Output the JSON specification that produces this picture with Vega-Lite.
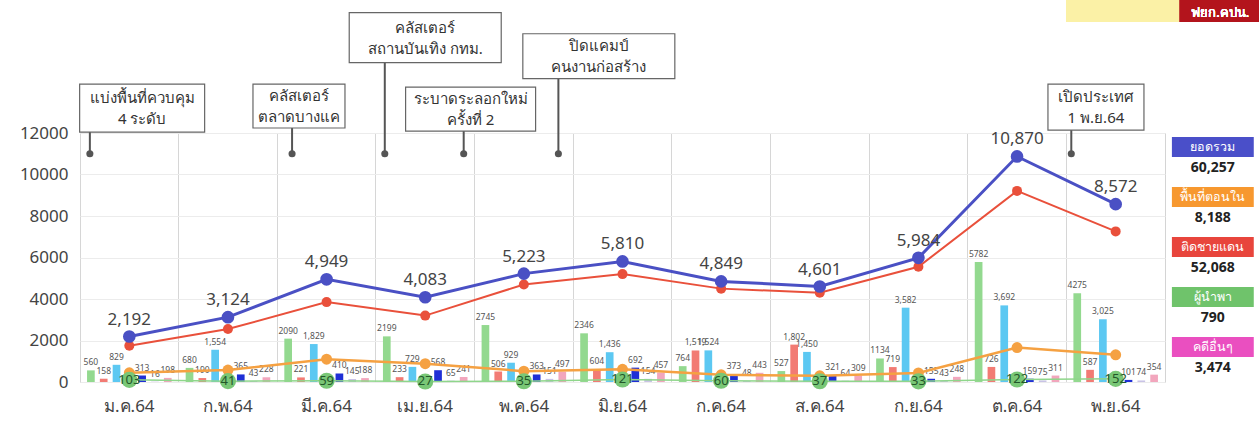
{
  "$schema": "https://vega.github.io/schema/vega-lite/v6.json",
  "width": 1085,
  "height": 249,
  "autosize": {"type": "none"},
  "padding": {"left": 80, "top": 133, "right": 94, "bottom": 40},
  "config": {
    "view": {"stroke": "#d4d4d4"},
    "font": "Noto Sans",
    "axis": {"labelFont": "Noto Sans", "title": null}
  },
  "datasets": {
    "bars": [
      {"m":"ม.ค.64","cat":"g","v":560},{"m":"ม.ค.64","cat":"r","v":158},{"m":"ม.ค.64","cat":"c","v":829},{"m":"ม.ค.64","cat":"b","v":313},{"m":"ม.ค.64","cat":"o","v":16},{"m":"ม.ค.64","cat":"p","v":198},
      {"m":"ก.พ.64","cat":"g","v":680},{"m":"ก.พ.64","cat":"r","v":190},{"m":"ก.พ.64","cat":"c","v":1554},{"m":"ก.พ.64","cat":"b","v":365},{"m":"ก.พ.64","cat":"o","v":43},{"m":"ก.พ.64","cat":"p","v":228},
      {"m":"มี.ค.64","cat":"g","v":2090},{"m":"มี.ค.64","cat":"r","v":221},{"m":"มี.ค.64","cat":"c","v":1829},{"m":"มี.ค.64","cat":"b","v":410},{"m":"มี.ค.64","cat":"o","v":145},{"m":"มี.ค.64","cat":"p","v":188},
      {"m":"เม.ย.64","cat":"g","v":2199},{"m":"เม.ย.64","cat":"r","v":233},{"m":"เม.ย.64","cat":"c","v":729},{"m":"เม.ย.64","cat":"b","v":568},{"m":"เม.ย.64","cat":"o","v":65},{"m":"เม.ย.64","cat":"p","v":241},
      {"m":"พ.ค.64","cat":"g","v":2745},{"m":"พ.ค.64","cat":"r","v":506},{"m":"พ.ค.64","cat":"c","v":929},{"m":"พ.ค.64","cat":"b","v":363},{"m":"พ.ค.64","cat":"o","v":151},{"m":"พ.ค.64","cat":"p","v":497},
      {"m":"มิ.ย.64","cat":"g","v":2346},{"m":"มิ.ย.64","cat":"r","v":604},{"m":"มิ.ย.64","cat":"c","v":1436},{"m":"มิ.ย.64","cat":"b","v":692},{"m":"มิ.ย.64","cat":"o","v":154},{"m":"มิ.ย.64","cat":"p","v":457},
      {"m":"ก.ค.64","cat":"g","v":764},{"m":"ก.ค.64","cat":"r","v":1519},{"m":"ก.ค.64","cat":"c","v":1524},{"m":"ก.ค.64","cat":"b","v":373},{"m":"ก.ค.64","cat":"o","v":48},{"m":"ก.ค.64","cat":"p","v":443},
      {"m":"ส.ค.64","cat":"g","v":527},{"m":"ส.ค.64","cat":"r","v":1802},{"m":"ส.ค.64","cat":"c","v":1450},{"m":"ส.ค.64","cat":"b","v":321},{"m":"ส.ค.64","cat":"o","v":64},{"m":"ส.ค.64","cat":"p","v":309},
      {"m":"ก.ย.64","cat":"g","v":1134},{"m":"ก.ย.64","cat":"r","v":719},{"m":"ก.ย.64","cat":"c","v":3582},{"m":"ก.ย.64","cat":"b","v":155},{"m":"ก.ย.64","cat":"o","v":43},{"m":"ก.ย.64","cat":"p","v":248},
      {"m":"ต.ค.64","cat":"g","v":5782},{"m":"ต.ค.64","cat":"r","v":726},{"m":"ต.ค.64","cat":"c","v":3692},{"m":"ต.ค.64","cat":"b","v":159},{"m":"ต.ค.64","cat":"o","v":75},{"m":"ต.ค.64","cat":"p","v":311},
      {"m":"พ.ย.64","cat":"g","v":4275},{"m":"พ.ย.64","cat":"r","v":587},{"m":"พ.ย.64","cat":"c","v":3025},{"m":"พ.ย.64","cat":"b","v":101},{"m":"พ.ย.64","cat":"o","v":74},{"m":"พ.ย.64","cat":"p","v":354}
    ],
    "summary": [
      {"m":"ม.ค.64","total":2192,"border":1750,"inside":442,"lead":103},
      {"m":"ก.พ.64","total":3124,"border":2550,"inside":574,"lead":41},
      {"m":"มี.ค.64","total":4949,"border":3850,"inside":1099,"lead":59},
      {"m":"เม.ย.64","total":4083,"border":3200,"inside":883,"lead":27},
      {"m":"พ.ค.64","total":5223,"border":4700,"inside":523,"lead":35},
      {"m":"มิ.ย.64","total":5810,"border":5200,"inside":610,"lead":121},
      {"m":"ก.ค.64","total":4849,"border":4500,"inside":349,"lead":60},
      {"m":"ส.ค.64","total":4601,"border":4300,"inside":301,"lead":37},
      {"m":"ก.ย.64","total":5984,"border":5550,"inside":434,"lead":33},
      {"m":"ต.ค.64","total":10870,"border":9210,"inside":1660,"lead":122},
      {"m":"พ.ย.64","total":8572,"border":7259,"inside":1313,"lead":152}
    ],
    "notes": [
      {"id":1,"t":["แบ่งพื้นที่ควบคุม","4 ระดับ"],"at":0.10,"lx":0.63,"ly":13200},
      {"id":2,"t":["คลัสเตอร์","ตลาดบางแค"],"at":2.15,"lx":2.22,"ly":13300},
      {"id":3,"t":["คลัสเตอร์","สถานบันเทิง กทม."],"at":3.09,"lx":3.50,"ly":16600},
      {"id":4,"t":["ระบาดระลอกใหม่","ครั้งที่ 2"],"at":3.89,"lx":3.96,"ly":13150},
      {"id":5,"t":["ปิดแคมป์","คนงานก่อสร้าง"],"at":4.85,"lx":5.26,"ly":15700},
      {"id":6,"t":["เปิดประเทศ","1 พ.ย.64"],"at":10.05,"lx":10.30,"ly":13250}
    ],
    "legend": [
      {"k":"ยอดรวม","total":60257},
      {"k":"พื้นที่ตอนใน","total":8188},
      {"k":"ติดชายแดน","total":52068},
      {"k":"ผู้นำพา","total":790},
      {"k":"คดีอื่นๆ","total":3474}
    ]
  },
  "resolve": {"scale": {"x": "independent", "y": "independent"}},
  "layer": [
    {
      "layer": [
        {
          "data": {"name": "bars"},
          "mark": {"type": "bar"},
          "encoding": {
            "x": {"field": "m", "type": "nominal",
              "scale": {"domain": ["ม.ค.64","ก.พ.64","มี.ค.64","เม.ย.64","พ.ค.64","มิ.ย.64","ก.ค.64","ส.ค.64","ก.ย.64","ต.ค.64","พ.ย.64"], "paddingInner": 0, "paddingOuter": 0},
              "axis": {"grid": true, "bandPosition": 0, "gridColor": "#d6d6d6", "ticks": false, "domain": false, "labelAngle": 0, "labelFontSize": 17, "labelColor": "#444", "labelPadding": 16}},
            "xOffset": {"field": "cat", "type": "nominal", "scale": {"domain": ["g","r","c","mid","b","o","p"], "paddingInner": 0.4, "paddingOuter": 0.55}},
            "y": {"field": "v", "type": "quantitative", "scale": {"domain": [0, 12000]},
              "axis": {"values": [0,1000,2000,3000,4000,5000,6000,7000,8000,9000,10000,11000,12000], "format": "d", "labelExpr": "datum.value % 2000 === 0 ? datum.label : ''", "grid": true, "gridColor": "#ececec", "ticks": false, "domain": false, "labelFontSize": 17, "labelColor": "#444", "labelPadding": 12}},
            "color": {"field": "cat", "type": "nominal", "scale": {"domain": ["g","r","c","b","o","p"], "range": ["#93d98f","#f27b74","#5cc8f2","#1f2fd6","#c9c3e6","#f2a6bd"]}, "legend": null}
          }
        },
        {
          "data": {"name": "bars"},
          "transform": [{"filter": "datum.cat === 'g'"}],
          "mark": {"type": "text", "fontSize": 8.5, "color": "#555", "baseline": "bottom", "dy": -3},
          "encoding": {
            "x": {"field": "m", "type": "nominal"},
            "xOffset": {"field": "cat", "type": "nominal"},
            "y": {"field": "v", "type": "quantitative"},
            "text": {"field": "v", "type": "quantitative", "format": "d"}
          }
        },
        {
          "data": {"name": "bars"},
          "transform": [{"filter": "datum.cat !== 'g'"}],
          "mark": {"type": "text", "fontSize": 8.5, "color": "#555", "baseline": "bottom", "dy": -3},
          "encoding": {
            "x": {"field": "m", "type": "nominal"},
            "xOffset": {"field": "cat", "type": "nominal"},
            "y": {"field": "v", "type": "quantitative"},
            "text": {"field": "v", "type": "quantitative", "format": ","}
          }
        },
        {
          "data": {"name": "summary"},
          "mark": {"type": "line", "color": "#e9503b", "strokeWidth": 2, "point": {"filled": true, "size": 100, "color": "#e9503b"}},
          "encoding": {"x": {"field": "m", "type": "nominal"}, "y": {"field": "border", "type": "quantitative"}}
        },
        {
          "data": {"name": "summary"},
          "mark": {"type": "line", "color": "#4a50c4", "strokeWidth": 3, "point": {"filled": true, "size": 160, "color": "#4a50c4"}},
          "encoding": {"x": {"field": "m", "type": "nominal"}, "y": {"field": "total", "type": "quantitative"}}
        },
        {
          "data": {"name": "summary"},
          "mark": {"type": "text", "fontSize": 17, "color": "#444", "baseline": "bottom", "dy": -8},
          "encoding": {"x": {"field": "m", "type": "nominal"}, "y": {"field": "total", "type": "quantitative"}, "text": {"field": "total", "type": "quantitative", "format": ","}}
        },
        {
          "data": {"name": "summary"},
          "mark": {"type": "line", "color": "#f5a142", "strokeWidth": 2.5, "point": {"filled": true, "size": 120, "color": "#f5a142"}},
          "encoding": {"x": {"field": "m", "type": "nominal"}, "y": {"field": "inside", "type": "quantitative"}}
        },
        {
          "data": {"name": "summary"},
          "mark": {"type": "line", "color": "#8fd68b", "strokeWidth": 1.5, "point": {"filled": true, "size": 260, "color": "#79c776"}},
          "encoding": {"x": {"field": "m", "type": "nominal"}, "y": {"field": "lead", "type": "quantitative"}}
        },
        {
          "data": {"name": "summary"},
          "mark": {"type": "text", "fontSize": 13, "color": "#23572a", "baseline": "middle"},
          "encoding": {"x": {"field": "m", "type": "nominal"}, "y": {"field": "lead", "type": "quantitative"}, "text": {"field": "lead", "type": "quantitative", "format": "d"}}
        }
      ]
    },
    {
      "data": {"name": "notes"},
      "layer": [
        {
          "mark": {"type": "rule", "color": "#555", "strokeWidth": 2},
          "encoding": {
            "x": {"field": "at", "type": "quantitative", "scale": {"domain": [0, 11], "nice": false, "zero": false}, "axis": null},
            "y": {"field": "ly", "type": "quantitative", "scale": {"domain": [0, 12000], "nice": false}, "axis": null},
            "y2": {"datum": 11000}
          }
        },
        {
          "mark": {"type": "point", "filled": true, "size": 50, "color": "#555", "opacity": 1},
          "encoding": {
            "x": {"field": "at", "type": "quantitative"},
            "y": {"datum": 11000, "type": "quantitative"}
          }
        },
        {"transform": [{"filter": "datum.id === 1"}], "mark": {"type": "point", "shape": "M-1,-0.384L1,-0.384L1,0.384L-1,0.384Z", "size": 15625, "filled": true, "fill": "white", "stroke": "#666", "strokeWidth": 1.2, "opacity": 1}, "encoding": {"x": {"field": "lx", "type": "quantitative"}, "y": {"field": "ly", "type": "quantitative"}}},
        {"transform": [{"filter": "datum.id === 2"}], "mark": {"type": "point", "shape": "M-1,-0.478L1,-0.478L1,0.478L-1,0.478Z", "size": 8464, "filled": true, "fill": "white", "stroke": "#666", "strokeWidth": 1.2, "opacity": 1}, "encoding": {"x": {"field": "lx", "type": "quantitative"}, "y": {"field": "ly", "type": "quantitative"}}},
        {"transform": [{"filter": "datum.id === 3"}], "mark": {"type": "point", "shape": "M-1,-0.329L1,-0.329L1,0.329L-1,0.329Z", "size": 23104, "filled": true, "fill": "white", "stroke": "#666", "strokeWidth": 1.2, "opacity": 1}, "encoding": {"x": {"field": "lx", "type": "quantitative"}, "y": {"field": "ly", "type": "quantitative"}}},
        {"transform": [{"filter": "datum.id === 4"}], "mark": {"type": "point", "shape": "M-1,-0.338L1,-0.338L1,0.338L-1,0.338Z", "size": 16900, "filled": true, "fill": "white", "stroke": "#666", "strokeWidth": 1.2, "opacity": 1}, "encoding": {"x": {"field": "lx", "type": "quantitative"}, "y": {"field": "ly", "type": "quantitative"}}},
        {"transform": [{"filter": "datum.id === 5"}], "mark": {"type": "point", "shape": "M-1,-0.296L1,-0.296L1,0.296L-1,0.296Z", "size": 23104, "filled": true, "fill": "white", "stroke": "#666", "strokeWidth": 1.2, "opacity": 1}, "encoding": {"x": {"field": "lx", "type": "quantitative"}, "y": {"field": "ly", "type": "quantitative"}}},
        {"transform": [{"filter": "datum.id === 6"}], "mark": {"type": "point", "shape": "M-1,-0.479L1,-0.479L1,0.479L-1,0.479Z", "size": 9216, "filled": true, "fill": "white", "stroke": "#666", "strokeWidth": 1.2, "opacity": 1}, "encoding": {"x": {"field": "lx", "type": "quantitative"}, "y": {"field": "ly", "type": "quantitative"}}},
        {
          "mark": {"type": "text", "fontSize": 15, "color": "#333", "lineHeight": 21, "baseline": "middle", "align": "center", "dy": -10},
          "encoding": {"x": {"field": "lx", "type": "quantitative"}, "y": {"field": "ly", "type": "quantitative"}, "text": {"field": "t", "type": "nominal"}}
        },
        {
          "mark": {"type": "rect", "color": "#fbf1a6"},
          "encoding": {"x": {"datum": 10.0, "type": "quantitative"}, "x2": {"datum": 11.15}, "y": {"datum": 17350, "type": "quantitative"}, "y2": {"datum": 18500}}
        },
        {
          "mark": {"type": "rect", "color": "#b3141c"},
          "encoding": {"x": {"datum": 11.15, "type": "quantitative"}, "x2": {"datum": 12.0}, "y": {"datum": 17350, "type": "quantitative"}, "y2": {"datum": 18500}}
        },
        {
          "mark": {"type": "text", "color": "white", "fontSize": 13, "baseline": "middle"},
          "encoding": {"x": {"datum": 11.56, "type": "quantitative"}, "y": {"datum": 17800, "type": "quantitative"}, "text": {"value": "ฟยก.คปน."}}
        }
      ]
    },
    {
      "data": {"name": "legend"},
      "layer": [
        {
          "mark": {"type": "rect"},
          "encoding": {
            "x": {"datum": 11.07, "type": "quantitative", "scale": {"domain": [0, 11], "nice": false, "zero": false}, "axis": null},
            "x2": {"datum": 11.90},
            "y": {"field": "k", "type": "nominal", "scale": {"domain": ["ยอดรวม","พื้นที่ตอนใน","ติดชายแดน","ผู้นำพา","คดีอื่นๆ"], "paddingInner": 0.6, "paddingOuter": 0.29, "align": 0.14}, "axis": null},
            "fill": {"field": "k", "type": "nominal", "scale": {"domain": ["ยอดรวม","พื้นที่ตอนใน","ติดชายแดน","ผู้นำพา","คดีอื่นๆ"], "range": ["#4a4fc9","#f7982f","#e8453c","#6fc36b","#ea4fc0"]}, "legend": null}
          }
        },
        {
          "mark": {"type": "text", "color": "white", "fontSize": 12.5, "baseline": "middle"},
          "encoding": {
            "x": {"datum": 11.485, "type": "quantitative"},
            "y": {"field": "k", "type": "nominal"},
            "text": {"field": "k", "type": "nominal"}
          }
        },
        {
          "mark": {"type": "text", "color": "#222", "fontSize": 14, "fontWeight": "bold", "baseline": "middle", "dy": 21},
          "encoding": {
            "x": {"datum": 11.485, "type": "quantitative"},
            "y": {"field": "k", "type": "nominal"},
            "text": {"field": "total", "type": "quantitative", "format": ","}
          }
        }
      ]
    }
  ]
}
